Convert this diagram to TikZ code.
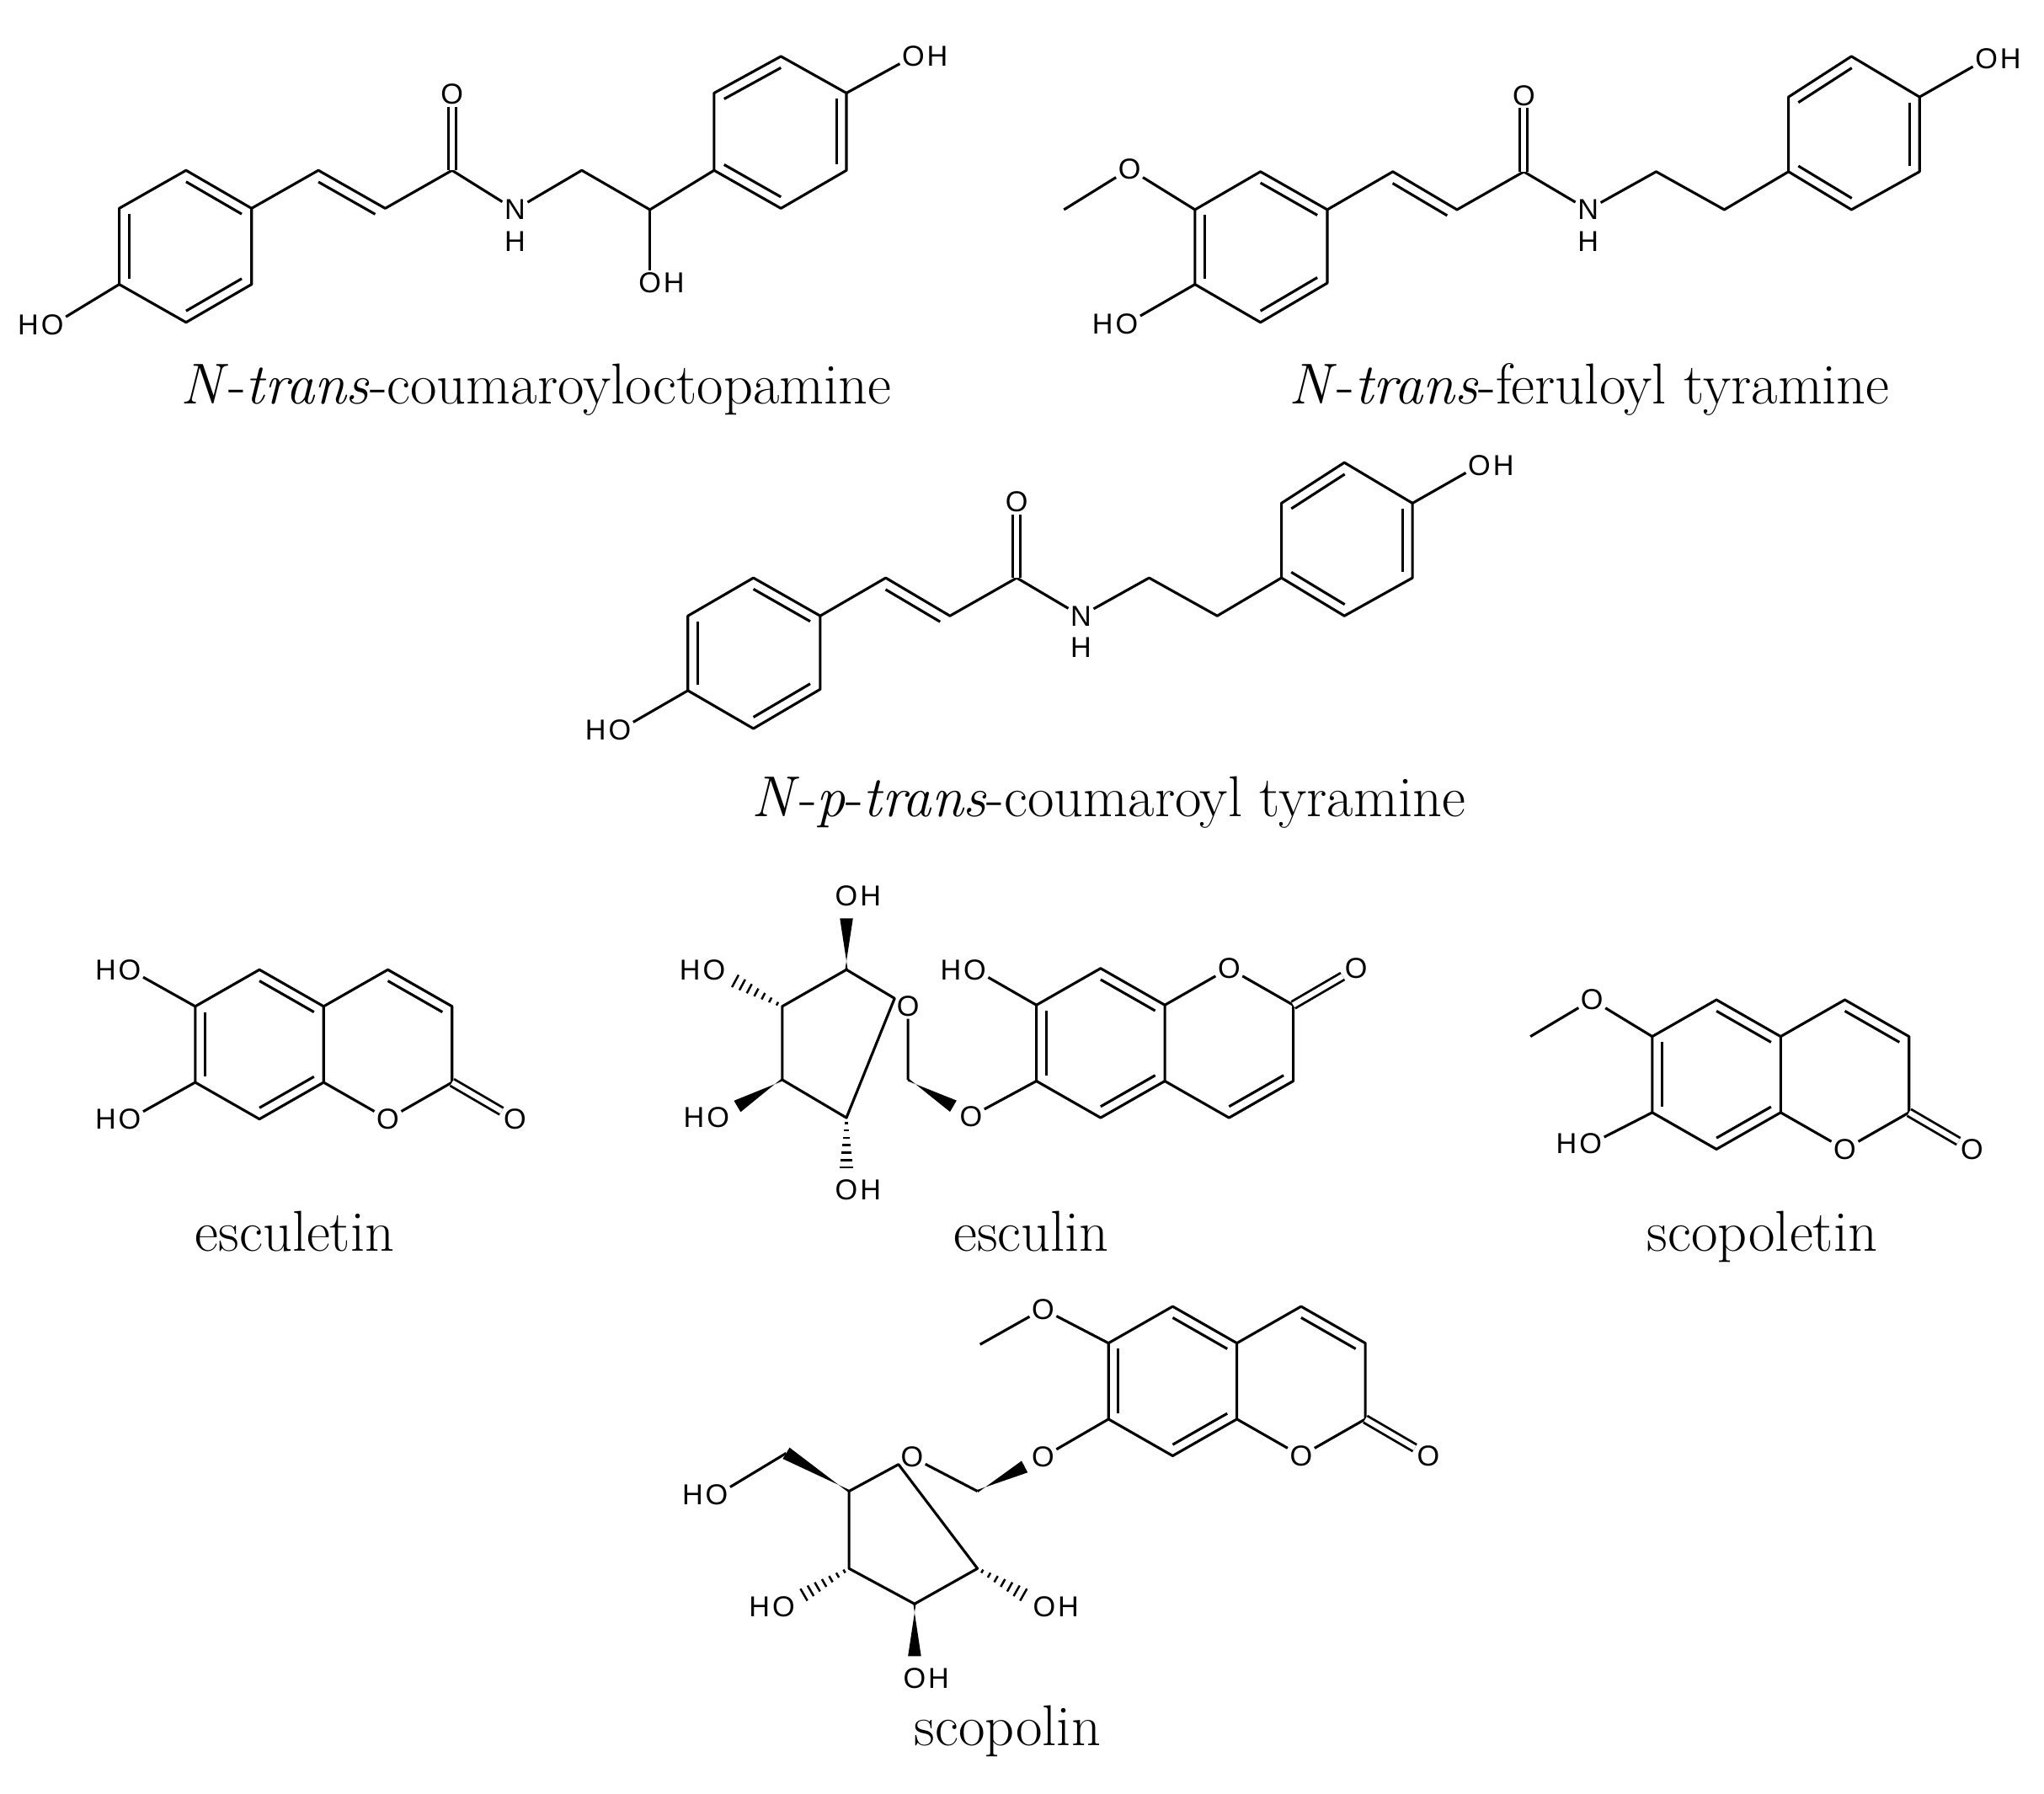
\documentclass[tikz,border=0pt]{standalone}
\usepackage{fontspec}
\usetikzlibrary{calc}
\newfontfamily\labfont{Liberation Sans}
\tikzset{
  bond/.style={line width=2pt, line join=round},
  dbl/.style={double=white, double distance=4pt, line width=1.8pt},
  lab/.style={font=\labfont\fontsize{22}{22}\selectfont, inner sep=1.5pt},
  labh/.style={font=\labfont\fontsize{22}{22}\selectfont, inner sep=0pt},
  capt/.style={font=\fontsize{44}{50}\selectfont, anchor=base, inner sep=0pt}
}
\newcommand\ib[3]{\draw[bond] ($(#1)!0.15!(#3)$) -- ($(#2)!0.15!(#3)$);}
\newcommand\OH[2]{\node[lab] (#1) at (#2) {O}; \node[labh, anchor=west] (#1h) at (#1.east) {H};}
\newcommand\HO[2]{\node[lab] (#1) at (#2) {O}; \node[labh, anchor=east] (#1h) at (#1.west) {H};}
\newcommand\wdg[3]{\coordinate (#1#2w) at ($(#1)!#3!(#2)$);
  \fill ($(#1)!1pt!90:(#1#2w)$) -- ($(#1#2w)!5pt!90:(#1)$) -- ($(#1#2w)!5pt!-90:(#1)$) -- ($(#1)!1pt!-90:(#1#2w)$) -- cycle;}
\newcommand\hsh[3]{\foreach \hk in {1,...,7}{%
  \pgfmathsetmacro\hf{#3*(\hk-0.3)/7}\pgfmathsetmacro\hw{0.8+4.5*\hk/7}%
  \draw[line width=1.6pt] ($(#1)!\hf!(#2)!\hw pt!90:(#2)$) -- ($(#1)!\hf!(#2)!\hw pt!-90:(#2)$);}}
\newcommand\amide[1]{%
  \coordinate (#1f1) at (962,131); \coordinate (#1f2) at (1013,160);
  \coordinate (#1f3) at (1013,216); \coordinate (#1f4) at (962,246);
  \coordinate (#1f5) at (912,217); \coordinate (#1f6) at (912,160);
  \coordinate (#1fc) at (962,188);
  \draw[bond] (#1f1)--(#1f2)--(#1f3)--(#1f4)--(#1f5)--(#1f6)--cycle;
  \ib{#1f1}{#1f2}{#1fc} \ib{#1f3}{#1f4}{#1fc} \ib{#1f5}{#1f6}{#1fc}
  \HO{#1HO}{860,247}
  \draw[bond] (#1f5)--(#1HO);
  \coordinate (#1g1) at (1063,131); \coordinate (#1g2) at (1112,160);
  \coordinate (#1g3) at (1163,131); \coordinate (#1gs) at (1062,190);
  \node[lab] (#1gO) at (1163,73) {O};
  \node[lab] (#1gN) at (1212,160) {N};
  \node[lab] (#1gH) at (1212,184) {H};
  \coordinate (#1g4) at (1264,131); \coordinate (#1g5) at (1316,160);
  \coordinate (#1h5) at (1365,131); \coordinate (#1h6) at (1365,74);
  \coordinate (#1h1) at (1413,43); \coordinate (#1h2) at (1465,74);
  \coordinate (#1h3) at (1465,131); \coordinate (#1h4) at (1413,160);
  \coordinate (#1hc) at (1415,102);
  \draw[bond] (#1f2)--(#1g1)--(#1g2)--(#1g3)--(#1gN)--(#1g4)--(#1g5)--(#1h5);
  \ib{#1g1}{#1g2}{#1gs}
  \draw[dbl] (#1g3)--(#1gO);
  \draw[bond] (#1h1)--(#1h2)--(#1h3)--(#1h4)--(#1h5)--(#1h6)--cycle;
  \ib{#1h6}{#1h1}{#1hc} \ib{#1h2}{#1h3}{#1hc} \ib{#1h4}{#1h5}{#1hc}
  \OH{#1hO}{1516,45}
  \draw[bond] (#1h2)--(#1hO);
}
% coumarin benzene ring b1..b6 (top,UR,LR,bottom,LL,UL) and pyrone; #2 = 1 normal (O bottom), -1 flipped
\newcommand\coum[4]{%
  \begin{scope}[shift={(#2,#3)}, yscale=#4]
  \coordinate (#1b1) at (0,0); \coordinate (#1b2) at (49,28);
  \coordinate (#1b3) at (49,86); \coordinate (#1b4) at (0,114);
  \coordinate (#1b5) at (-49,86); \coordinate (#1b6) at (-49,28);
  \coordinate (#1bc) at (0,57);
  \coordinate (#1p4) at (98,0); \coordinate (#1p3) at (147,28);
  \coordinate (#1p2) at (147,86); \coordinate (#1pc) at (98,57);
  \node[lab] (#1pO) at (98,114) {O};
  \node[lab] (#1xO) at (195,114) {O};
  \end{scope}
  \draw[bond] (#1b1)--(#1b2)--(#1b3)--(#1b4)--(#1b5)--(#1b6)--cycle;
  \ib{#1b1}{#1b2}{#1bc} \ib{#1b3}{#1b4}{#1bc} \ib{#1b5}{#1b6}{#1bc}
  \draw[bond] (#1b2)--(#1p4)--(#1p3)--(#1p2)--(#1pO)--(#1b3);
  \ib{#1p4}{#1p3}{#1pc}
  \draw[dbl] (#1p2)--(#1xO);
}
\begin{document}
\begin{tikzpicture}[x=1pt,y=-1pt]
\useasboundingbox (0,0) rectangle (1560,1369);
% ---------- molecule 1
\coordinate (a1) at (142,130); \coordinate (a2) at (192,159);
\coordinate (a3) at (192,217); \coordinate (a4) at (142,246);
\coordinate (a5) at (91,217); \coordinate (a6) at (91,159);
\coordinate (ac) at (142,188);
\draw[bond] (a1)--(a2)--(a3)--(a4)--(a5)--(a6)--cycle;
\ib{a1}{a2}{ac} \ib{a3}{a4}{ac} \ib{a5}{a6}{ac}
\HO{aO}{40,248}
\draw[bond] (a5)--(aO);
\coordinate (c1) at (243,130); \coordinate (c2) at (294,159);
\coordinate (c3) at (345,130); \coordinate (cs) at (243,189);
\node[lab] (cO) at (345,72) {O};
\node[lab] (cN) at (393,160) {N};
\node[lab] (cH) at (393,184) {H};
\coordinate (c4) at (444,130); \coordinate (c5) at (496,160);
\OH{cOH}{496,216}
\coordinate (b1) at (596,43); \coordinate (b2) at (646,71);
\coordinate (b3) at (646,130); \coordinate (b4) at (596,159);
\coordinate (b5) at (545,130); \coordinate (b6) at (545,71);
\coordinate (bc) at (596,101);
\draw[bond] (a2)--(c1)--(c2)--(c3)--(cN)--(c4)--(c5)--(b5);
\ib{c1}{c2}{cs}
\draw[dbl] (c3)--(cO);
\draw[bond] (c5)--(cOH);
\draw[bond] (b1)--(b2)--(b3)--(b4)--(b5)--(b6)--cycle;
\ib{b6}{b1}{bc} \ib{b2}{b3}{bc} \ib{b4}{b5}{bc}
\OH{bO}{697,43}
\draw[bond] (b2)--(bO);
\node[capt] (cap1) at (409,308) {\textit{N}-\textit{trans}-coumaroyloctopamine};
% ---------- molecule 2
\amide{m}
\node[lab] (mMO) at (862,129) {O};
\coordinate (mMe) at (812,160);
\draw[bond] (mf6)--(mMO)--(mMe);
\node[capt] (cap2) at (1213,308) {\textit{N}-\textit{trans}-feruloyl tyramine};
% ---------- molecule 3
\begin{scope}[shift={(-387,310)}]
\amide{t}
\end{scope}
\node[capt] (cap3) at (846,623) {\textit{N}-\textit{p}-\textit{trans}-coumaroyl tyramine};
% ---------- esculetin
\coum{e}{198}{740}{1}
\HO{eO1}{99,740} \HO{eO2}{99,854}
\draw[bond] (eb6)--(eO1); \draw[bond] (eb5)--(eO2);
\node[capt] (cap4) at (225,955) {esculetin};
% ---------- esculin (flipped)
\coum{s}{840}{853}{-1}
\HO{sHO}{744,740}
\draw[bond] (sb5)--(sHO);
\node[lab] (sgO) at (741,852) {O};
\draw[bond] (sb6)--(sgO);
\coordinate (u1) at (693,824); \node[lab] (urO) at (693,768) {O};
\coordinate (u5) at (646,740); \coordinate (u4) at (597,768);
\coordinate (u3) at (597,824); \coordinate (u2) at (646,853);
\draw[bond] (u1)--(urO)--(u5)--(u4)--(u3)--(u2)--cycle;
\wdg{u1}{sgO}{0.72}
\OH{uO5}{646,684} \wdg{u5}{uO5}{0.7}
\HO{uO4}{545,740} \hsh{u4}{uO4}{0.72}
\HO{uO3}{548,853} \wdg{u3}{uO3}{0.7}
\OH{uO2}{646,908} \hsh{u2}{uO2}{0.72}
\node[capt] (cap5) at (787,955) {esculin};
% ---------- scopoletin
\coum{p}{1310}{763}{1}
\node[lab] (pMO) at (1215,763) {O}; \coordinate (pMe) at (1168,791);
\draw[bond] (pb6)--(pMO)--(pMe);
\HO{pHO}{1214,873}
\draw[bond] (pb5)--(pHO);
\node[capt] (cap6) at (1345,955) {scopoletin};
% ---------- scopolin
\coum{q}{895}{997}{1}
\node[lab] (qMO) at (796,999) {O}; \coordinate (qMe) at (748,1026);
\draw[bond] (qb6)--(qMO)--(qMe);
\node[lab] (qgO) at (796,1112) {O};
\draw[bond] (qb5)--(qgO);
\coordinate (v1) at (746,1138); \node[lab] (vrO) at (696,1112) {O};
\coordinate (v5) at (648,1138); \coordinate (v4) at (648,1197);
\coordinate (v3) at (698,1224); \coordinate (v2) at (746,1197);
\draw[bond] (v1)--(vrO)--(v5)--(v4)--(v3)--(v2)--cycle;
\wdg{v1}{qgO}{0.72}
\coordinate (v6) at (600,1109);
\wdg{v5}{v6}{1}
\HO{vO6}{547,1141} \draw[bond] (v6)--(vO6);
\HO{vO4}{598,1226} \hsh{v4}{vO4}{0.72}
\OH{vO2}{797,1226} \hsh{v2}{vO2}{0.72}
\OH{vO3}{698,1281} \wdg{v3}{vO3}{0.7}
\node[capt] (cap7) at (769,1332) {scopolin};
\end{tikzpicture}
\end{document}
